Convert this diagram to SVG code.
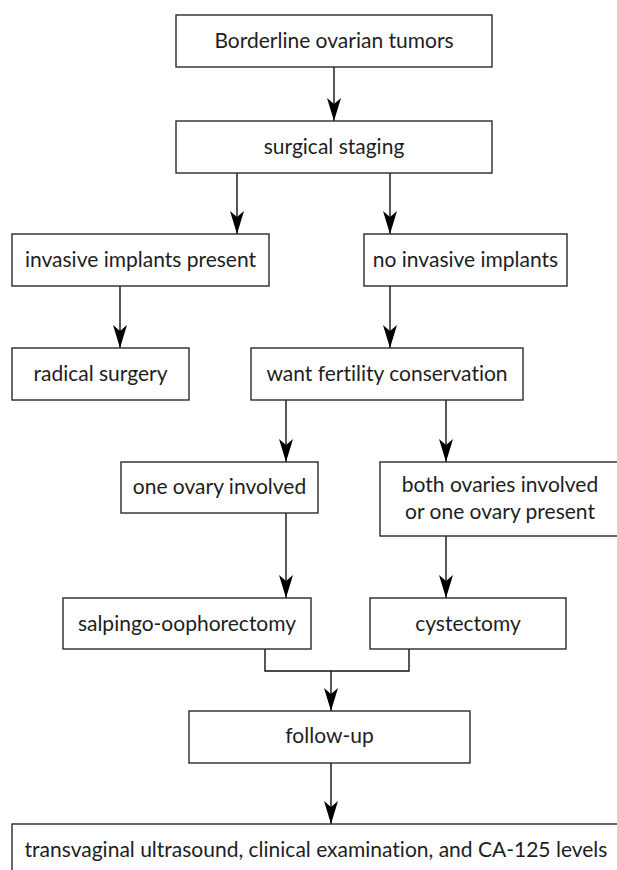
<svg xmlns="http://www.w3.org/2000/svg" width="617" height="870" viewBox="0 0 617 870">
<defs>
<style>
.box{fill:#fff;stroke:#2a2a2a;stroke-width:1.4}
.t{font-family:Lato,"Open Sans",sans-serif;font-size:21px;font-variant-ligatures:none;fill:#1e1e1e;text-anchor:middle}
.c{fill:none;stroke:#111;stroke-width:1.4}
</style>
<marker id="ah" viewBox="-24 -8 25 16" refX="0" refY="0" markerWidth="25" markerHeight="16" markerUnits="userSpaceOnUse" orient="auto">
<path d="M0,0 L-23,-7 L-17,0 L-23,7 Z" fill="#000"/>
</marker>
</defs>
<rect width="617" height="870" fill="#fff"/>
<g id="connectors">
<line class="c" x1="334" y1="67" x2="334" y2="121" marker-end="url(#ah)"/>
<line class="c" x1="237" y1="173" x2="237" y2="234" marker-end="url(#ah)"/>
<line class="c" x1="390" y1="173" x2="390" y2="234" marker-end="url(#ah)"/>
<line class="c" x1="120" y1="286" x2="120" y2="348" marker-end="url(#ah)"/>
<line class="c" x1="390" y1="286" x2="390" y2="348" marker-end="url(#ah)"/>
<line class="c" x1="286" y1="400" x2="286" y2="462" marker-end="url(#ah)"/>
<line class="c" x1="446" y1="400" x2="446" y2="462" marker-end="url(#ah)"/>
<line class="c" x1="286" y1="513" x2="286" y2="598" marker-end="url(#ah)"/>
<line class="c" x1="446" y1="536" x2="446" y2="598" marker-end="url(#ah)"/>
<polyline class="c" points="265,649 265,671 409,671 409,649"/>
<line class="c" x1="331" y1="671" x2="331" y2="711" marker-end="url(#ah)"/>
<line class="c" x1="331" y1="763" x2="331" y2="824" marker-end="url(#ah)"/>
</g>
<g id="n1"><rect class="box" x="176" y="15" width="316" height="52"/><text class="t" x="334" y="48">Borderline ovarian tumors</text></g>
<g id="n2"><rect class="box" x="176" y="121" width="316" height="52"/><text class="t" x="334" y="154">surgical staging</text></g>
<g id="n3"><rect class="box" x="12" y="234" width="257" height="52"/><text class="t" x="140.5" y="267">invasive implants present</text></g>
<g id="n4"><rect class="box" x="364" y="234" width="203" height="52"/><text class="t" x="465.5" y="267">no invasive implants</text></g>
<g id="n5"><rect class="box" x="12" y="348" width="177" height="52"/><text class="t" x="100.5" y="381">radical surgery</text></g>
<g id="n6"><rect class="box" x="251" y="348" width="272" height="52"/><text class="t" x="387" y="381">want fertility conservation</text></g>
<g id="n7"><rect class="box" x="121" y="462" width="197" height="51"/><text class="t" x="219.5" y="494">one ovary involved</text></g>
<g id="n8"><rect class="box" x="380" y="462" width="240" height="74"/><text class="t" x="500" y="492">both ovaries involved</text><text class="t" x="500" y="519">or one ovary present</text></g>
<g id="n9"><rect class="box" x="63" y="598" width="248" height="51"/><text class="t" x="187" y="631">salpingo-oophorectomy</text></g>
<g id="n10"><rect class="box" x="370" y="598" width="196" height="51"/><text class="t" x="468" y="631">cystectomy</text></g>
<g id="n11"><rect class="box" x="189" y="711" width="281" height="52"/><text class="t" x="329.5" y="743">follow-up</text></g>
<g id="n12"><rect class="box" x="12" y="824" width="610" height="60"/><text class="t" x="316" y="857">transvaginal ultrasound, clinical examination, and CA-125 levels</text></g>
</svg>
